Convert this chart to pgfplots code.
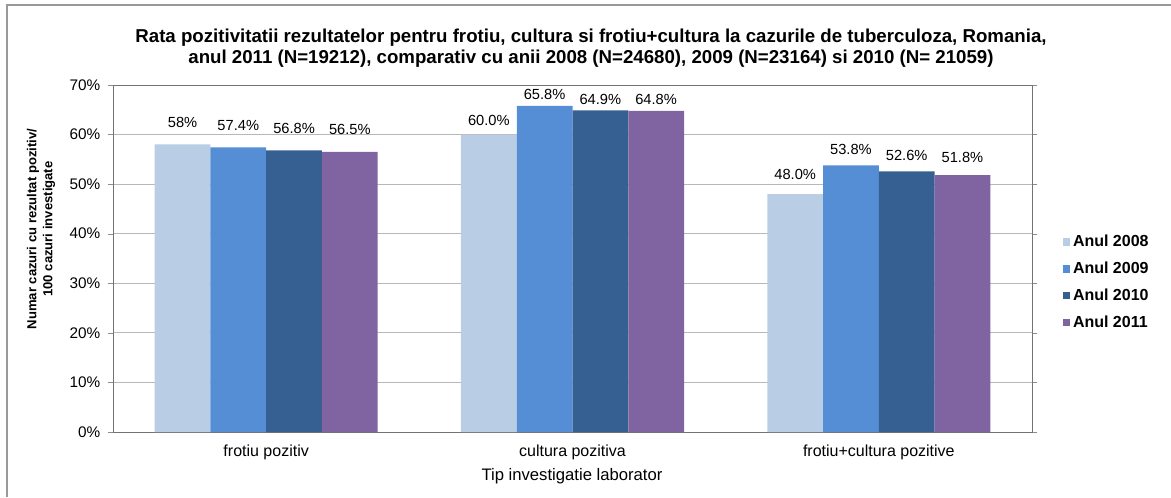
\documentclass[border=0pt]{standalone}
\usepackage{pgfplots}
\pgfplotsset{compat=1.18}
\usepackage{fontspec}
\setmainfont{Liberation Sans}
\definecolor{c08}{HTML}{B9CDE5}
\definecolor{c09}{HTML}{558ED5}
\definecolor{c10}{HTML}{376092}
\definecolor{c11}{HTML}{8064A2}
\begin{document}
\begin{tikzpicture}[x=0.75pt,y=0.75pt]
\useasboundingbox (0,0) rectangle (1171,497);
\draw[black!40,line width=1.5pt] (7,0) -- (7,492) -- (1171,492);
\begin{axis}[
 at={(84.75pt,48.75pt)},anchor=south west,
 scale only axis,width=689.25pt,height=260.25pt,
 ybar=0pt,bar width=0.182,
 xmin=-0.5,xmax=2.5,ymin=0,ymax=70,
 xtick={0,1,2},
 xticklabels={frotiu pozitiv,cultura pozitiva,frotiu+cultura pozitive},
 major x tick style={draw=none},
 xticklabel style={font=\fontsize{12}{14}\selectfont,yshift=-2.5pt},
 ytick={0,10,...,70},
 /pgf/number format/assume math mode=true,
 yticklabel={\pgfmathprintnumber{\tick}\%},
 yticklabel style={font=\fontsize{11.5}{13}\selectfont,xshift=-2pt},
 tick align=outside,major tick length=4pt,
 ytick style={black!45},
 axis line style={black!55},
 ymajorgrids,grid style={black!28,line width=0.75pt},
 nodes near coords={\pgfplotspointmeta\%},
 point meta=explicit symbolic,
 visualization depends on={\thisrow{dy} \as \dy},
 every node near coord/.append style={anchor=center,yshift=\dy pt,
   font=\fontsize{11}{13}\selectfont,text=black},
 legend style={at={(1.033,0.432)},anchor=west,draw=none,fill=none,
   font=\bfseries\fontsize{12}{14}\selectfont,row sep=6pt,inner sep=0pt,
   cells={anchor=west}},
 legend image code/.code={\fill[#1] (0pt,-2.9pt) rectangle (5.8pt,2.9pt);},
]
\addplot[fill=c08,draw=none] table[x=x,y=y,meta=lab]{
x y lab dy
0 58 58 16.5
1 60 60.0 10.5
2 48 48.0 15
};
\addplot[fill=c09,draw=none] table[x=x,y=y,meta=lab]{
x y lab dy
0 57.4 57.4 16.5
1 65.8 65.8 8.5
2 53.8 53.8 12
};
\addplot[fill=c10,draw=none] table[x=x,y=y,meta=lab]{
x y lab dy
0 56.8 56.8 16.5
1 64.9 64.9 8.5
2 52.6 52.6 12
};
\addplot[fill=c11,draw=none] table[x=x,y=y,meta=lab]{
x y lab dy
0 56.5 56.5 16.5
1 64.8 64.8 8.5
2 51.8 51.8 13.5
};
\legend{Anul 2008,Anul 2009,Anul 2010,Anul 2011}
\end{axis}
\node[font=\bfseries\fontsize{14}{15.5}\selectfont,align=center] at (591,449)
 {Rata pozitivitatii rezultatelor pentru frotiu, cultura si frotiu+cultura la cazurile de tuberculoza, Romania,\\
 anul 2011 (N=19212), comparativ cu anii 2008 (N=24680), 2009 (N=23164) si 2010 (N= 21059)};
\node[rotate=90,align=center,font=\bfseries\fontsize{9.8}{12}\selectfont] at (41,268)
 {Numar cazuri cu rezultat pozitiv/\\100 cazuri investigate};
\node[font=\fontsize{12.5}{14}\selectfont] at (572,21) {Tip investigatie laborator};
\end{tikzpicture}
\end{document}
